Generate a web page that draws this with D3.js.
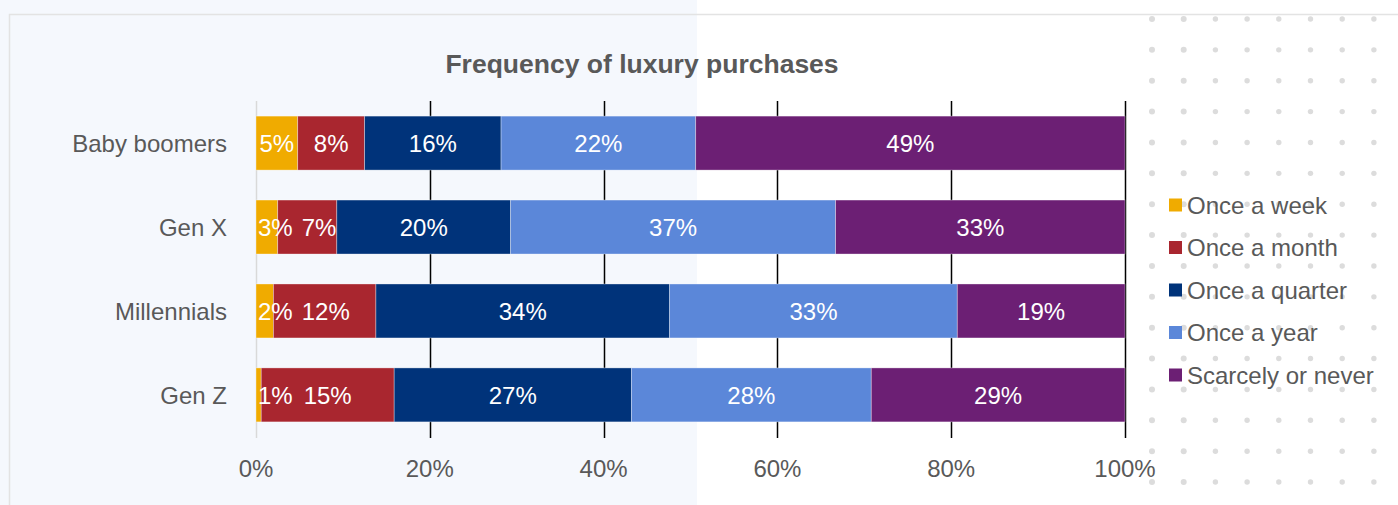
<!DOCTYPE html>
<html>
<head>
<meta charset="utf-8">
<script src="https://cdn.jsdelivr.net/npm/d3@7"></script>
<style>
  html, body { margin: 0; padding: 0; background: #fff; }
  svg { display: block; font-family: "Liberation Sans", Arial, sans-serif; }
</style>
</head>
<body>
<div id="chart"></div>
<script>
var categories = ['Baby boomers', 'Gen X', 'Millennials', 'Gen Z'];
var seriesNames = ['Once a week', 'Once a month', 'Once a quarter', 'Once a year', 'Scarcely or never'];
var colors = ['#f0ab00', '#a9262f', '#00337a', '#5b87d9', '#6c1f74'];
// share of each group, in %, one array per frequency
var onceWeek = [4.8, 2.5, 2.0, 0.6];
var onceMonth = [7.7, 6.8, 11.8, 15.3];
var onceQuarter = [15.7, 20.0, 33.8, 27.3];
var onceYear = [22.4, 37.4, 33.1, 27.6];
var scarcely = [49.4, 33.3, 19.3, 29.2];
var xTicks = [0, 20, 40, 60, 80, 100];

var w = 1398;
var h = 505;
var fs = 24;
var svg = d3.select('#chart').append('svg').attr('width', w).attr('height', h);

// page background: left half tinted
svg.append('rect').attr('x', 0).attr('y', 0).attr('width', 697).attr('height', h).attr('fill', '#f5f8fd');

// dotted pattern on the right
var dotG = svg.append('g');
for (var r = 0; r < 16; r++) {
  for (var c = 0; c < 8; c++) {
    dotG.append('circle')
      .attr('cx', 1152 + c * 31.7)
      .attr('cy', 19 + r * 30.87)
      .attr('r', c < 2 ? 3 : 2.7)
      .attr('fill', '#dcdcdc');
  }
}

// chart frame
svg.append('path')
  .attr('d', 'M9.5,' + h + 'V14.5H' + w)
  .attr('fill', 'none')
  .attr('stroke', '#e3e3e3')
  .attr('stroke-width', 1.5);

var x = d3.scaleLinear().domain([0, 100]).range([256, 1125]);
var y = d3.scaleBand().domain(categories).range([101, 437]).paddingInner(0.357).paddingOuter(0.18);

var rows = categories.map(function (cat, i) {
  return { cat: cat, week: onceWeek[i], month: onceMonth[i], quarter: onceQuarter[i], year: onceYear[i], never: scarcely[i] };
});
var keys = ['week', 'month', 'quarter', 'year', 'never'];
var stack = d3.stack().keys(keys)(rows);

// gridlines
svg.append('g').selectAll('line')
  .data(xTicks)
  .enter()
  .append('line')
  .attr('x1', function (d) { return Math.round(x(d)) + 0.5; })
  .attr('x2', function (d) { return Math.round(x(d)) + 0.5; })
  .attr('y1', 101)
  .attr('y2', 438)
  .attr('stroke', function (d) { return d === 0 ? '#d9d9d9' : '#000'; })
  .attr('stroke-width', 1.5);

// bars
svg.append('g').selectAll('g')
  .data(stack)
  .enter()
  .append('g')
  .attr('fill', function (d, i) { return colors[i]; })
  .selectAll('rect')
  .data(function (d) { return d; })
  .enter()
  .append('rect')
  .attr('x', function (d) { return x(d[0]); })
  .attr('width', function (d) { return x(d[1]) - x(d[0]); })
  .attr('y', function (d) { return y(d.data.cat); })
  .attr('height', y.bandwidth())
  .attr('stroke', 'rgba(255,255,255,0.45)')
  .attr('stroke-width', 0.75);

// value labels on top of every bar, nudged right when they would collide
var labelG = svg.append('g');
categories.forEach(function (cat, ci) {
  var prevRight = -Infinity;
  stack.forEach(function (layer) {
    var d = layer[ci];
    var t = labelG.append('text')
      .attr('y', y(cat) + y.bandwidth() / 2)
      .attr('dy', '0.36em')
      .attr('fill', '#fff')
      .attr('font-size', fs)
      .text(Math.round(d[1] - d[0]) + '%');
    var tw = t.node().getComputedTextLength();
    var left = (x(d[0]) + x(d[1])) / 2 - tw / 2;
    if (left < x(0) + 2) left = x(0) + 2;
    if (left < prevRight + 9) left = prevRight + 9;
    t.attr('x', left);
    prevRight = left + tw;
  });
});

// category labels
svg.append('g').selectAll('text')
  .data(categories)
  .enter()
  .append('text')
  .attr('x', 227)
  .attr('y', function (d) { return y(d) + y.bandwidth() / 2; })
  .attr('dy', '0.36em')
  .attr('text-anchor', 'end')
  .attr('fill', '#595959')
  .attr('font-size', fs)
  .text(function (d) { return d; });

// x tick labels
svg.append('g').selectAll('text')
  .data(xTicks)
  .enter()
  .append('text')
  .attr('x', function (d) { return x(d); })
  .attr('y', 477)
  .attr('text-anchor', 'middle')
  .attr('fill', '#595959')
  .attr('font-size', fs)
  .text(function (d) { return d + '%'; });

// title
svg.append('text')
  .attr('x', 642)
  .attr('y', 73)
  .attr('text-anchor', 'middle')
  .attr('fill', '#595959')
  .attr('font-size', 26.5)
  .attr('font-weight', 'bold')
  .text('Frequency of luxury purchases');

// legend
var legend = svg.append('g').selectAll('g')
  .data(seriesNames)
  .enter()
  .append('g')
  .attr('transform', function (d, i) { return 'translate(1169,' + (205 + i * 42.5) + ')'; });

legend.append('rect')
  .attr('x', 0)
  .attr('y', -6.5)
  .attr('width', 13)
  .attr('height', 13)
  .attr('fill', function (d, i) { return colors[i]; });

legend.append('text')
  .attr('x', 18)
  .attr('y', 0)
  .attr('dy', '0.36em')
  .attr('fill', '#595959')
  .attr('font-size', fs)
  .text(function (d) { return d; });
</script>
</body>
</html>
